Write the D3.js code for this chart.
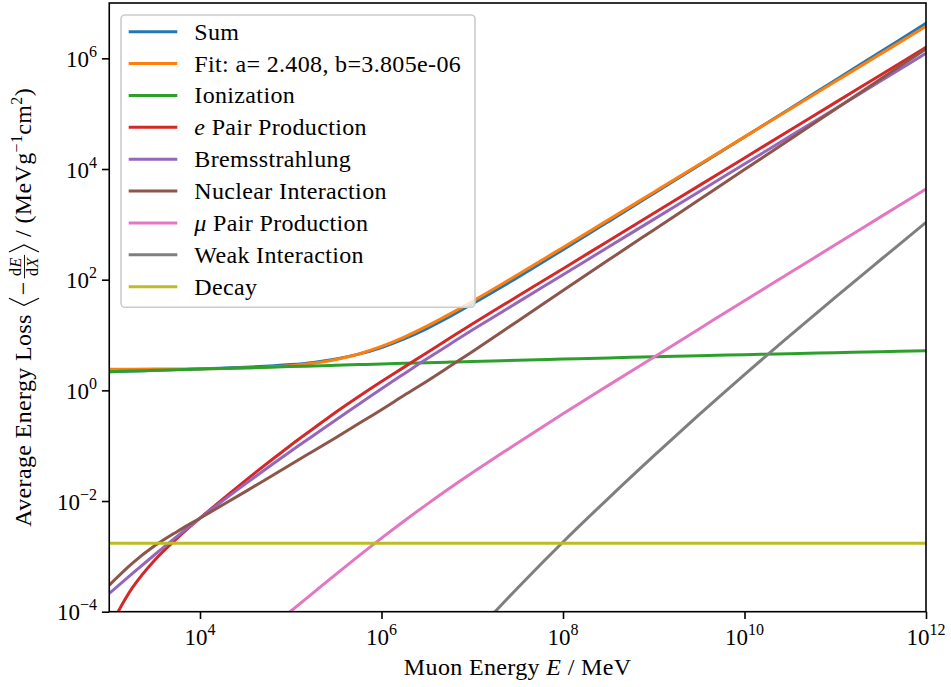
<!DOCTYPE html>
<html>
<head>
<meta charset="utf-8">
<script src="https://cdn.jsdelivr.net/npm/d3@7"></script>
<style>
  html, body { margin: 0; padding: 0; background: #fff; }
  svg { display: block; }
  text { font-family: "Liberation Serif", "Times New Roman", serif; }
</style>
</head>
<body>
<svg id="chart" width="951" height="687" font-family="Liberation Serif, serif"></svg>
<script>
// Muon energy grid, MeV
const energyMeV = [1e3, 1.778e3, 3.162e3, 5.623e3, 1e4, 3.162e4, 1e5, 1.778e5, 3.162e5, 5.623e5,
                   1e6, 1.778e6, 3.162e6, 5.623e6, 1e7, 3.162e7, 1e8, 3.162e8, 1e9, 3.162e9,
                   1e10, 3.162e10, 1e11, 3.162e11, 1e12];

// Average energy loss per process, MeV g^-1 cm^2
const sumLoss = [2.17, 2.23, 2.31, 2.37, 2.44, 2.61, 2.92, 3.20, 3.69, 4.51,
                 5.96, 8.53, 13.1, 21.4, 36.5, 110, 349, 1121, 3617, 1.17e4,
                 3.80e4, 1.23e5, 4.02e5, 1.31e6, 4.30e6];
const ionization = [2.17, 2.23, 2.30, 2.36, 2.42, 2.55, 2.69, 2.76, 2.84, 2.92,
                    2.99, 3.08, 3.16, 3.24, 3.32, 3.49, 3.67, 3.86, 4.06, 4.23,
                    4.41, 4.59, 4.79, 4.99, 5.20];
const ePairProduction = [5.0e-5, 2.63e-4, 8.51e-4, 2.14e-3, 4.90e-3, 0.0234, 0.102, 0.204, 0.407, 0.776,
                         1.445, 2.63, 4.79, 8.71, 15.85, 50.1, 158, 501, 1585, 5012,
                         1.585e4, 5.01e4, 1.585e5, 5.01e5, 1.585e6];
const bremsstrahlung = [2.14e-4, 4.84e-4, 1.07e-3, 2.32e-3, 4.90e-3, 0.0204, 0.0794, 0.153, 0.295, 0.562,
                        1.07, 2.00, 3.72, 6.76, 12.3, 38.9, 123, 389, 1230, 3890,
                        1.23e4, 3.89e4, 1.23e5, 3.89e5, 1.23e6];
const nuclearInteraction = [3.02e-4, 7.41e-4, 1.55e-3, 2.82e-3, 4.90e-3, 0.0148, 0.0457, 0.0804, 0.141, 0.251,
                            0.447, 0.813, 1.46, 2.69, 5.01, 17.8, 63.8, 226, 794, 2786,
                            9772, 3.43e4, 1.20e5, 4.22e5, 1.479e6];
const muPairProduction = [null, null, null, null, null, 2.14e-5, 1.02e-4, 2.21e-4, 4.79e-4, 1.02e-3,
                          2.14e-3, 4.37e-3, 8.71e-3, 0.0170, 0.0324, 0.112, 0.376, 1.23, 3.98, 12.9,
                          41.7, 133, 427, 1365, 4365];
const weakInteraction = [null, null, null, null, null, null, null, null, null, null,
                         null, null, null, null, 3.63e-5, 2.69e-4, 1.82e-3, 0.0112, 0.0653, 0.363,
                         1.93, 9.77, 47.9, 229, 1084];
const decay = [1.73e-3, 1.73e-3, 1.73e-3, 1.73e-3, 1.73e-3, 1.73e-3, 1.73e-3, 1.73e-3, 1.73e-3, 1.73e-3,
               1.73e-3, 1.73e-3, 1.73e-3, 1.73e-3, 1.73e-3, 1.73e-3, 1.73e-3, 1.73e-3, 1.73e-3, 1.73e-3,
               1.73e-3, 1.73e-3, 1.73e-3, 1.73e-3, 1.73e-3];

// Linear fit  <-dE/dX> = a + b E
const fitA = 2.408;
const fitB = 3.805e-6;
const fitLoss = energyMeV.map(e => fitA + fitB * e);

const xTicks = [1e4, 1e6, 1e8, 1e10, 1e12];
const xTickExp = ["4", "6", "8", "10", "12"];
const yTicks = [1e-4, 1e-2, 1e0, 1e2, 1e4, 1e6];
const yTickExp = ["\u22124", "\u22122", "0", "2", "4", "6"];

const series = [
  { label: [["Sum"]], values: sumLoss, color: "#1f77b4" },
  { label: [["Fit: a= 2.408, b=3.805e-06"]], values: fitLoss, color: "#ff7f0e" },
  { label: [["Ionization"]], values: ionization, color: "#2ca02c" },
  { label: [["e", "italic"], [" Pair Production"]], values: ePairProduction, color: "#d62728" },
  { label: [["Bremsstrahlung"]], values: bremsstrahlung, color: "#9467bd" },
  { label: [["Nuclear Interaction"]], values: nuclearInteraction, color: "#8c564b" },
  { label: [["\u03bc", "italic"], [" Pair Production"]], values: muPairProduction, color: "#e377c2" },
  { label: [["Weak Interaction"]], values: weakInteraction, color: "#7f7f7f" },
  { label: [["Decay"]], values: decay, color: "#bcbd22" }
];

const FS = 23, LFS = 24, SUP = 16, LS = "0.35px";
const plot = { left: 109.25, right: 926, top: 3, bottom: 611.7 };

const svg = d3.select("#chart");
const x = d3.scaleLog().domain([1e3, 1e12]).range([plot.left, plot.right]);
const y = d3.scaleLog().domain([1e-4, 1e7]).range([plot.bottom, plot.top]);

svg.append("defs").append("clipPath").attr("id", "plotClip")
  .append("rect")
  .attr("x", plot.left).attr("y", plot.top)
  .attr("width", plot.right - plot.left).attr("height", plot.bottom - plot.top);

// Curves
const line = d3.line()
  .defined(d => d[1] != null)
  .x(d => x(d[0]))
  .y(d => y(d[1]))
  .curve(d3.curveCatmullRom.alpha(0.5));

const curves = svg.append("g").attr("clip-path", "url(#plotClip)");
series.forEach(s => {
  curves.append("path")
    .datum(energyMeV.map((e, i) => [e, s.values[i]]))
    .attr("d", line)
    .attr("fill", "none")
    .attr("stroke", s.color)
    .attr("stroke-width", 3)
    .attr("stroke-linejoin", "round");
});

// Axes (ticks only; frame drawn separately)
const tickLen = 7.3;
const xAxis = svg.append("g").attr("transform", `translate(0,${plot.bottom})`)
  .call(d3.axisBottom(x).tickValues(xTicks).tickFormat("").tickSize(tickLen).tickSizeOuter(0));
const yAxis = svg.append("g").attr("transform", `translate(${plot.left},0)`)
  .call(d3.axisLeft(y).tickValues(yTicks).tickFormat("").tickSize(tickLen).tickSizeOuter(0));
[xAxis, yAxis].forEach(a => {
  a.select(".domain").remove();
  a.selectAll(".tick line").attr("stroke", "#000").attr("stroke-width", 1.6);
});

// Tick labels: powers of ten
const xLab = svg.append("g").attr("font-size", FS).attr("fill", "#000");
xTicks.forEach((t, i) => {
  const txt = xLab.append("text").attr("x", x(t)).attr("y", 645).attr("text-anchor", "middle");
  txt.append("tspan").text("10");
  txt.append("tspan").attr("font-size", SUP).attr("dy", -10).text(xTickExp[i]);
});
const yLab = svg.append("g").attr("font-size", FS).attr("fill", "#000");
yTicks.forEach((t, i) => {
  const txt = yLab.append("text").attr("x", 97).attr("y", y(t) + 8.5).attr("text-anchor", "end");
  txt.append("tspan").text("10");
  txt.append("tspan").attr("font-size", SUP).attr("dy", -10).text(yTickExp[i]);
});

// Frame
svg.append("rect")
  .attr("x", plot.left).attr("y", plot.top)
  .attr("width", plot.right - plot.left).attr("height", plot.bottom - plot.top)
  .attr("fill", "none").attr("stroke", "#000").attr("stroke-width", 1.6);

// X axis label
const xl = svg.append("text")
  .attr("x", (plot.left + plot.right) / 2).attr("y", 675)
  .attr("text-anchor", "middle").attr("font-size", LFS).attr("letter-spacing", LS);
xl.append("tspan").text("Muon Energy ");
xl.append("tspan").attr("font-style", "italic").text("E");
xl.append("tspan").text(" / MeV");

// Y axis label with the dE/dX fraction
const ylab = svg.append("g")
  .attr("transform", `translate(31,${(plot.top + plot.bottom) / 2}) rotate(-90)`);
const inner = ylab.append("g").attr("font-size", LFS).attr("letter-spacing", LS);
let cx = 0;
const t1 = inner.append("text").attr("x", cx).attr("y", 0).text("Average Energy Loss");
cx += t1.node().getComputedTextLength() + 9;
inner.append("path")
  .attr("d", `M${cx + 7},-22 L${cx},-7 L${cx + 7},8`)
  .attr("fill", "none").attr("stroke", "#000").attr("stroke-width", 1.1);
cx += 10;
const tm = inner.append("text").attr("x", cx).attr("y", 0).text("\u2212");
cx += tm.node().getComputedTextLength() + 3;
const num = inner.append("text").attr("y", -10.5).attr("font-size", SUP).attr("text-anchor", "middle");
num.append("tspan").text("d");
num.append("tspan").attr("font-style", "italic").text("E");
const den = inner.append("text").attr("y", 6.5).attr("font-size", SUP).attr("text-anchor", "middle");
den.append("tspan").text("d");
den.append("tspan").attr("font-style", "italic").text("X");
const fw = Math.max(num.node().getComputedTextLength(), den.node().getComputedTextLength()) + 5;
num.attr("x", cx + fw / 2);
den.attr("x", cx + fw / 2);
inner.append("line")
  .attr("x1", cx).attr("x2", cx + fw).attr("y1", -6.5).attr("y2", -6.5)
  .attr("stroke", "#000").attr("stroke-width", 0.9);
cx += fw + 3;
inner.append("path")
  .attr("d", `M${cx},-22 L${cx + 7},-7 L${cx},8`)
  .attr("fill", "none").attr("stroke", "#000").attr("stroke-width", 1.1);
cx += 7 + 8;
const unit = inner.append("text").attr("x", cx).attr("y", 0);
unit.append("tspan").text("/ (MeVg");
unit.append("tspan").attr("font-size", SUP).attr("dy", -9).text("\u22121");
unit.append("tspan").attr("dy", 9).text("cm");
unit.append("tspan").attr("font-size", SUP).attr("dy", -9).text("2");
unit.append("tspan").attr("dy", 9).text(")");
cx += unit.node().getComputedTextLength();
inner.attr("transform", `translate(${-cx / 2},0)`);

// Legend
const lg = svg.append("g");
lg.append("rect")
  .attr("x", 121).attr("y", 15).attr("width", 354).attr("height", 292.3)
  .attr("rx", 4).attr("ry", 4)
  .attr("fill", "#fff").attr("fill-opacity", 0.8)
  .attr("stroke", "#cccccc").attr("stroke-width", 1.6);
series.forEach((s, i) => {
  const ly = 31.7 + i * 31.875;
  lg.append("line")
    .attr("x1", 128.7).attr("x2", 177.3).attr("y1", ly).attr("y2", ly)
    .attr("stroke", s.color).attr("stroke-width", 3);
  const t = lg.append("text").attr("x", 194.3).attr("y", ly + 8)
    .attr("font-size", LFS).attr("letter-spacing", LS);
  s.label.forEach(([str, style]) => {
    const sp = t.append("tspan").text(str);
    if (style) sp.attr("font-style", style);
  });
});
</script>
</body>
</html>
